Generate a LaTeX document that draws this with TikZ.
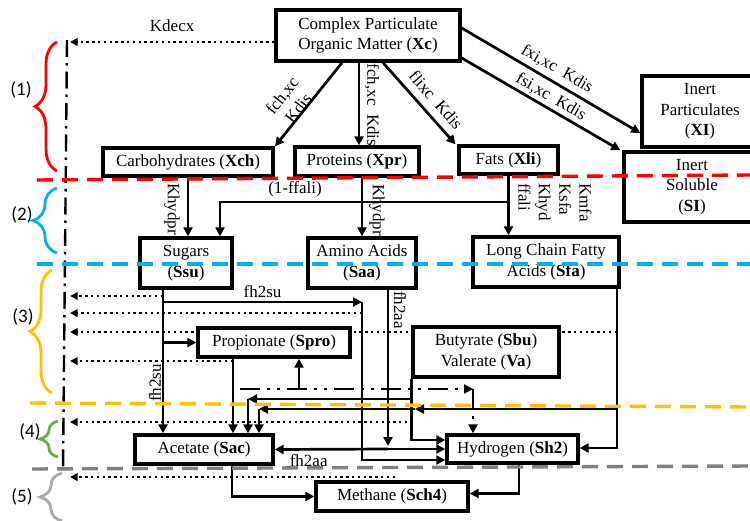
\documentclass[tikz,border=0pt]{standalone}
\usepackage{fontspec}
\setmainfont{Liberation Serif}
\newfontfamily\bracefont{Carlito}
\usetikzlibrary{arrows.meta,decorations.pathreplacing}
\pgfdeclarelayer{background}
\pgfsetlayers{background,main}
\definecolor{regred}{RGB}{255,0,0}
\definecolor{regblue}{RGB}{0,176,240}
\definecolor{regyellow}{RGB}{255,192,0}
\definecolor{reggreen}{RGB}{112,173,71}
\definecolor{reggray}{RGB}{128,128,128}
\definecolor{reglight}{RGB}{170,170,170}

\begin{document}
\begin{tikzpicture}[x=1pt, y=-1pt,
    font=\fontsize{17}{20.4}\selectfont,
    box/.style={draw, line width=3.4pt, fill=white, inner sep=0pt, align=center},
    flow/.style={line width=2.7pt, -{Triangle[length=9pt, width=9pt]}},
    decay/.style={line width=2.4pt, dash pattern=on 2.4pt off 3.4pt, -{Triangle[length=7.5pt, width=7.5pt]}},
    vapath/.style={line width=2.8pt, dash pattern=on 20pt off 7pt on 3pt off 7pt on 3pt off 7pt, -{Triangle[length=9pt, width=9pt]}},
    vline/.style={line width=2.4pt, dash pattern=on 17pt off 6pt on 2.5pt off 6pt},
    region/.style={line width=3.4pt, dash pattern=on 16pt off 9pt},
    regbrace/.style={line width=2.8pt, decorate, decoration={brace, amplitude=#1}},
    reglabel/.style={font=\fontsize{19}{22}\bracefont},
    lbl/.style={inner sep=1pt, align=center}
  ]
  \useasboundingbox (0,0) rectangle (750,520);
  \clip (0,0) rectangle (750,520);

  \node[box, minimum width=184pt, minimum height=51pt] (xc) at (368,35.5) {Complex Particulate\\Organic Matter (\textbf{Xc})};
  \node[box, minimum width=170pt, minimum height=28pt] (xch) at (188,162) {Carbohydrates (\textbf{Xch})};
  \node[box, minimum width=124pt, minimum height=29pt] (xpr) at (357,161.5) {Proteins (\textbf{Xpr})};
  \node[box, minimum width=99pt, minimum height=28pt] (xli) at (508.5,160) {Fats (\textbf{Xli})};
  \node[box, minimum width=116pt, minimum height=71pt] (xi) at (700,111.5) {Inert\\Particulates\\(\textbf{XI})};
  \node[box, minimum width=136pt, minimum height=70pt] (si) at (692,187) {Inert\\Soluble\\(\textbf{SI})};
  \node[box, minimum width=92pt, minimum height=50pt] (ssu) at (186,263) {Sugars\\(\textbf{Ssu})};
  \node[box, minimum width=108pt, minimum height=50pt] (saa) at (362,263) {Amino Acids\\(\textbf{Saa})};
  \node[box, minimum width=146pt, minimum height=50pt] (sfa) at (546,262) {Long Chain Fatty\\Acids (\textbf{Sfa})};
  \node[box, minimum width=152pt, minimum height=29pt] (spro) at (274,342.5) {Propionate (\textbf{Spro})};
  \node[box, minimum width=146pt, minimum height=50pt] (sbu) at (486,352) {Butyrate (\textbf{Sbu})\\Valerate (\textbf{Va})};
  \node[box, minimum width=138pt, minimum height=29pt] (sac) at (204,449.5) {Acetate (\textbf{Sac})};
  \node[box, minimum width=131pt, minimum height=28pt] (sh2) at (512.5,449) {Hydrogen (\textbf{Sh2})};
  \node[box, minimum width=152pt, minimum height=29pt] (sch4) at (392,496.5) {Methane (\textbf{Sch4})};

  \begin{pgfonlayer}{background}
    \coordinate (vl) at (70,0);
    \draw[vline] (67,40) -- (63,471);
    \coordinate (kd) at ([yshift=-6.5pt]xc.west);
    \draw[decay] (kd) -- (kd -| vl) node[midway, above=6pt] (lkdecx) {Kdecx};

    \draw[flow] ([xshift=-26pt]xc.south) -- ([xshift=87pt]xch.north);
    \draw[flow] ([xshift=-9pt]xc.south) -- ([xshift=2pt]xpr.north);
    \draw[flow] ([xshift=15pt]xc.south) -- ([xshift=-53pt]xli.north);
    \draw[flow] ([yshift=7.5pt]xc.east) -- ([yshift=-21.5pt]xi.west);
    \draw[flow] ([yshift=-22.5pt]xc.east) -- ([xshift=-2pt]si.north west);
    \node[lbl, rotate=52] (lch) at (290,102) {fch,xc\\Kdis};
    \node[lbl, rotate=-90] (lpr) at (372,105) {fch,xc~~Kdis};
    \node[lbl, rotate=-49] (lli) at (436,100) {flixc~~Kdis};
    \node[lbl, rotate=-30] (lxi) at (557,69) {fxi,xc~~Kdis};
    \node[lbl, rotate=-30] (lsi) at (551,97) {fsi,xc~~Kdis};

    \draw[flow] (xch.south) -- (xch.south |- ssu.north);
    \draw[flow] (saa.north |- xpr.south) -- (saa.north);
    \draw[flow] (xli.south) -- (xli.south |- sfa.north);
    \coordinate (liJ) at (508.5,202);
    \draw[flow] (liJ) -| ([xshift=34pt]ssu.north) node[pos=0.37, above] (lffali) {(1-ffali)};
    \node[lbl, rotate=-90] (lhsu) at (172,209) {Khydpr};
    \node[lbl, rotate=-90] (lhaa) at (377,210) {Khydpr};
    \node[lbl, rotate=-90, anchor=west, align=left] (lhfa) at (555,182) {Kmfa\\Ksfa\\Khyd\\ffali};

    \draw[flow] ([xshift=-23pt]ssu.south) -- ([xshift=-41pt]sac.north);
    \coordinate (suA) at (163,296);
    \coordinate (suB) at (163,302);
    \coordinate (suC) at (362,302);
    \coordinate (suD) at (362,313);
    \draw[decay] (suA) -- (suA -| vl);
    \draw[flow] (suB) -- (suC) node[midway, above] (lsu) {fh2su};
    \draw[flow] (suC) |- ([yshift=-11pt]sh2.west);
    \draw[decay] (suD) -- (suD -| vl);
    \draw[flow] (spro.west -| suB) -- (spro.west);
    \node[lbl, rotate=90] (lsuac) at (155,383) {fh2su};

    \coordinate (aaJ) at (388,449);
    \draw[flow] ([xshift=26pt]saa.south) -- ([yshift=3pt]aaJ);
    \draw[flow] (aaJ) -- (sh2.west);
    \draw[flow] (aaJ) -- (sac.east) node[pos=0.7, below] (laa) {fh2aa};
    \node[lbl, rotate=-90] (laah) at (400,310) {fh2aa};

    \draw[flow] ([xshift=-41pt]spro.south) -- ([xshift=29pt]sac.north);
    \coordinate (proA) at (233,361);
    \draw[decay] (proA) -- (proA -| vl);

    \coordinate (vaL) at (240,389);
    \coordinate (vaR) at (473,389);
    \coordinate (proB) at ([xshift=25pt]spro.south);
    \draw[vapath] (vaL) -- (vaR);
    \draw[vapath] (vaR) -- ([xshift=-39.5pt]sh2.north);
    \draw[flow] (proB |- vaL) -- (proB);

    \draw[flow] (sbu.south west) |- ([yshift=9pt]sh2.west);
    \coordinate (buA) at (413,399);
    \coordinate (buB) at (248,399);
    \coordinate (buC) at (413,422);
    \draw[flow] (buA) -- (buB);
    \draw[flow] (buB) -- (buB |- sac.north);
    \draw[decay] (buC) -- (buC -| vl);

    \coordinate (faA) at ([xshift=71pt]sfa.south);
    \coordinate (faB) at (617,332);
    \coordinate (faC) at (617,409);
    \coordinate (faD) at (415,409);
    \coordinate (faE) at (259,409);
    \draw[flow] (faA) |- ([yshift=1pt]sh2.east);
    \draw[decay] (faB) -- (faB -| vl);
    \draw[flow] (faC) -- (faD);
    \draw[flow] (faD) -- (faE);
    \draw[flow] (faE) -- (faE |- sac.north);

    \draw[flow] ([xshift=28pt]sac.south) |- (sch4.west);
    \draw[flow] ([xshift=6.5pt]sh2.south) |- ([yshift=3pt]sch4.east);
    \coordinate (chA) at (395,477);
    \draw[decay] (chA) -- (chA -| vl);
  \end{pgfonlayer}

  \draw[region, regred] (37,180) -- (750,175);
  \draw[region, regblue] (37,264) -- (750,264);
  \draw[region, regyellow] (30,403) -- (750,407);
  \draw[region, reggray] (32,469) -- (750,466);

  \draw[regbrace=22pt, regred] (57,171) -- (57,42);
  \draw[regbrace=24pt, regblue] (57,253) -- (57,188);
  \draw[regbrace=22pt, regyellow] (52,393) -- (52,270);
  \draw[regbrace=18pt, reggreen] (58,457) -- (58,421);
  \draw[regbrace=22pt, reglight] (62,521) -- (62,473);

  \node[reglabel] (r1) at (21,90) {(1)};
  \node[reglabel] (r2) at (22,215) {(2)};
  \node[reglabel] (r3) at (23,317) {(3)};
  \node[reglabel] (r4) at (30,432) {(4)};
  \node[reglabel] (r5) at (22,497) {(5)};
\end{tikzpicture}
\end{document}
